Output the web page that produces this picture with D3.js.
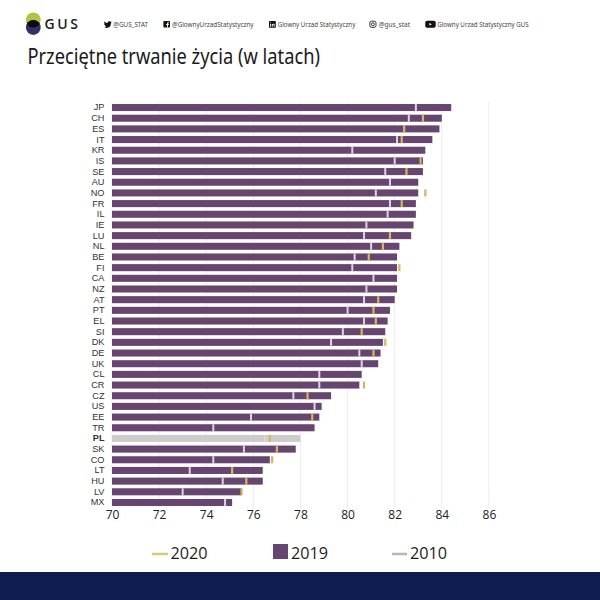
<!DOCTYPE html>
<html>
<head>
<meta charset="utf-8">
<script src="https://cdn.jsdelivr.net/npm/d3@7/dist/d3.min.js"></script>
<style>
html,body{margin:0;padding:0;background:#fff}
svg{display:block}
</style>
</head>
<body>
<svg id="chart" width="600" height="600"></svg>
<script>
// Life expectancy per country, in years
const countries = ["JP","CH","ES","IT","KR","IS","SE","AU","NO","FR","IL","IE","LU","NL","BE","FI","CA","NZ","AT","PT","EL","SI","DK","DE","UK","CL","CR","CZ","US","EE","TR","PL","SK","CO","LT","HU","LV","MX"];
const values2019 = [84.4,84.0,83.9,83.6,83.3,83.2,83.2,83.0,83.0,82.9,82.9,82.8,82.7,82.2,82.1,82.1,82.1,82.1,82.0,81.8,81.7,81.6,81.5,81.4,81.3,80.6,80.5,79.3,78.9,78.8,78.6,78.0,77.8,76.7,76.4,76.4,75.5,75.1];
const values2010 = [82.9,82.6,82.4,82.1,80.2,82.0,81.6,81.8,81.2,81.8,81.7,80.8,80.7,81.0,80.3,80.2,81.1,80.8,80.7,80.0,80.7,79.8,79.3,80.5,80.6,78.8,78.8,77.7,78.6,75.9,74.3,76.5,75.6,74.3,73.3,74.7,73.0,74.8];
const values2020 = [null,83.2,82.4,82.3,null,83.1,82.5,null,83.3,82.3,null,null,81.8,81.5,80.9,82.2,null,null,81.3,81.1,81.2,80.6,81.6,81.1,null,null,80.7,78.3,null,78.5,null,76.7,77.0,76.8,75.1,75.7,75.5,null];
const xTicks = [70,72,74,76,78,80,82,84,86];
const highlighted = "PL";

const legendYears = ["2020","2019","2010"];
const socialHandles = ["@GUS_STAT","@GlownyUrzadStatystyczny","Glowny Urzad Statystyczny","@gus_stat","Glowny Urzad Statystyczny GUS"];
const titleText = "Przeciętne trwanie życia (w latach)";

const COL_BAR = "#664570", COL_PL = "#cdcbcb", COL_2020 = "#dcb25f", COL_2010 = "#ddd4e2", INK = "#1d1d1d";
const svg = d3.select("#chart");

const x = d3.scaleLinear().domain([70,86]).range([112,488.9]);
const y = d3.scaleBand().domain(countries).range([102.2,507.8]).paddingInner(0.34).paddingOuter(0.17);

// Vertical grid
svg.append("g").selectAll("line").data(xTicks).join("line")
  .attr("x1",d=>x(d)).attr("x2",d=>x(d)).attr("y1",102).attr("y2",508)
  .attr("stroke","#ececec").attr("stroke-width",1);

// 2019 bars
svg.append("g").selectAll("rect").data(countries).join("rect")
  .attr("x",x(70)).attr("y",d=>y(d))
  .attr("width",(d,i)=>x(values2019[i])-x(70)).attr("height",y.bandwidth())
  .attr("fill",d=>d===highlighted?COL_PL:COL_BAR);

// 2010 ticks
svg.append("g").selectAll("rect").data(countries).join("rect")
  .attr("x",(d,i)=>x(values2010[i])-1).attr("y",d=>y(d)).attr("width",2).attr("height",y.bandwidth())
  .attr("fill",COL_2010);

// 2020 ticks, where a value was published
svg.append("g").selectAll("rect").data(countries.filter((d,i)=>values2020[i]!==null)).join("rect")
  .attr("x",d=>x(values2020[countries.indexOf(d)])-1.1).attr("y",d=>y(d)).attr("width",2.2).attr("height",y.bandwidth())
  .attr("fill",COL_2020);

// Country labels
const axisY = d3.axisLeft(y).tickSize(0).tickPadding(0);
const gy = svg.append("g").attr("transform","translate(104.5,0)").call(axisY);
gy.select(".domain").remove();
gy.selectAll("text").attr("font-family","'Liberation Sans'").attr("font-size",9.2).attr("fill","#333")
  .attr("font-weight",d=>d===highlighted?700:400);

// Value axis
const axisX = d3.axisBottom(x).tickValues(xTicks).tickSize(0).tickPadding(0).tickFormat(d3.format("d"));
const gx = svg.append("g").attr("transform","translate(0,510)").call(axisX);
gx.select(".domain").remove();
gx.selectAll("text").attr("font-family","'Open Sans'").attr("font-size",12).attr("fill","#222");

// Legend
const legend = svg.append("g").attr("font-family","'Open Sans'").attr("font-size",16.2).attr("fill",INK);
legend.append("line").attr("x1",152).attr("x2",168).attr("y1",554).attr("y2",554).attr("stroke","#e2c677").attr("stroke-width",2.5);
legend.append("text").attr("x",170.5).attr("y",559).text(legendYears[0]);
legend.append("rect").attr("x",273).attr("y",544).attr("width",15).attr("height",15).attr("fill",COL_BAR);
legend.append("text").attr("x",291).attr("y",559).text(legendYears[1]);
legend.append("line").attr("x1",392).attr("x2",407).attr("y1",554).attr("y2",554).attr("stroke","#b5b5b5").attr("stroke-width",2.5);
legend.append("text").attr("x",410).attr("y",559).text(legendYears[2]);

// Footer band
svg.append("rect").attr("x",0).attr("y",572).attr("width",600).attr("height",28).attr("fill","#0e1d4e");

// Logo
const logo = svg.append("g");
logo.append("circle").attr("cx",33.3).attr("cy",19.8).attr("r",7.4).attr("fill","#b3c244");
logo.append("circle").attr("cx",33.3).attr("cy",27.6).attr("r",7.4).attr("fill","#2f3266");
logo.append("path").attr("d","M26.9 23.7A7.4 7.4 0 0 1 39.7 23.7A7.4 7.4 0 0 1 26.9 23.7Z").attr("fill","#0b0b0b");
logo.append("text").attr("x",44.5).attr("y",29.3).attr("font-family","'Open Sans'").attr("font-weight",600)
  .attr("font-size",14).attr("textLength",33.5).attr("fill","#222").text("GUS");

// Social media strip
const social = svg.append("g").attr("font-family","'Noto Sans'").attr("font-size",6.8).attr("fill","#444");
const textX = [113.3,172,277.7,378.7,437.3];
const handleWidths = [34.7,81.5,77.6,31.3,91.4];
socialHandles.forEach((t,i)=>{
  social.append("text").attr("x",textX[i]).attr("y",26.7).attr("textLength",handleWidths[i])
    .attr("lengthAdjust","spacingAndGlyphs").text(t);
});
const icons = svg.append("g").attr("fill","#111");
// Bird
icons.append("path").attr("transform","translate(103.8,20.6) scale(0.85)")
  .attr("d","M7.5 1.2C6 .2 4.4 1.2 4.4 2.8 3 2.8 1.6 2 .7 1c-.5 1-.2 2.1.6 2.8L.4 3.6c0 1 .7 1.8 1.6 2l-.8.1c.3.8 1 1.3 1.8 1.4-.8.6-1.8.9-2.8.8 3.6 2 8.3.2 8.3-5l.8-.9-.9.2.9-1-1.8.2z");
// Facebook square
icons.append("rect").attr("x",163.4).attr("y",21).attr("width",6.6).attr("height",6.6).attr("rx",.8);
icons.append("path").attr("d","M167.1 27.6v-2.6h-.9v-1h.9v-.7c0-.8.5-1.1 1.1-1.1h.7v1h-.5c-.3 0-.4.1-.4.4v.4h.9l-.2 1h-.7v2.6z").attr("fill","#fff");
// LinkedIn square
icons.append("rect").attr("x",269).attr("y",21).attr("width",6.8).attr("height",6.8).attr("rx",.6);
icons.append("path").attr("d","M270.1 23.9h.9v2.8h-.9zM270.1 22.5h.9v.8h-.9zM271.8 23.9h.9v.4c.5-.7 1.9-.7 1.9.6v1.8h-.9v-1.6c0-.7-1-.7-1 0v1.6h-.9z").attr("fill","#fff");
// Instagram outline
const ig = svg.append("g").attr("fill","none").attr("stroke","#222").attr("stroke-width",.9);
ig.append("rect").attr("x",369.8).attr("y",21.2).attr("width",6.2).attr("height",6.2).attr("rx",1.8);
ig.append("circle").attr("cx",372.9).attr("cy",24.3).attr("r",1.5);
// Video badge
icons.append("rect").attr("x",425.3).attr("y",20.8).attr("width",10.4).attr("height",7).attr("rx",1.8);
icons.append("path").attr("d","M429.3 23l2.6 1.3-2.6 1.3z").attr("fill","#fff");

// Title
svg.append("text").attr("x",27.5).attr("y",64.3).attr("font-family","'Noto Sans'").attr("font-size",21)
  .attr("textLength",292.5).attr("lengthAdjust","spacingAndGlyphs").attr("fill","#1a1a1a").text(titleText);
</script>
</body>
</html>
